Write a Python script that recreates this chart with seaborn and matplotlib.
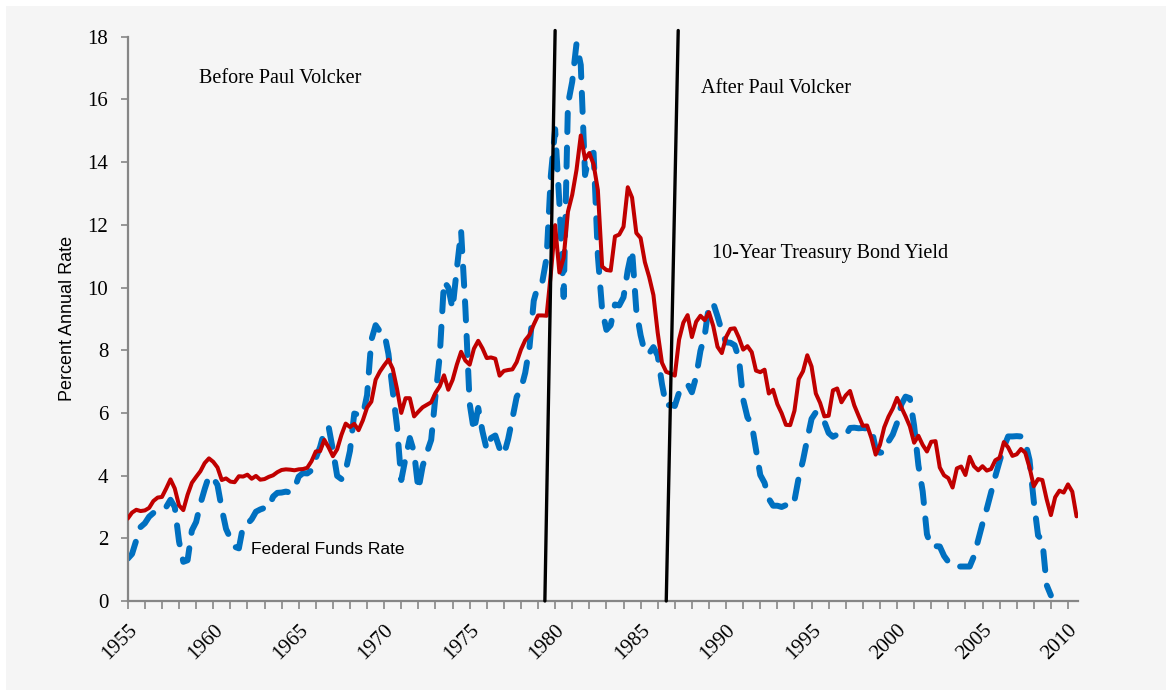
import numpy as np
import pandas as pd
import seaborn as sns
from matplotlib import pyplot as plt
from matplotlib.patches import Rectangle
from matplotlib.ticker import MultipleLocator, FixedLocator
import matplotlib.transforms as mtransforms

# quarterly values, first point is 1955 Q1
start_year = 1955

# 10-year treasury bond yield, 1955 Q1 .. 2010 Q3
treasury_10y = [
    2.63, 2.82, 2.91, 2.87,  # 1955
    2.89, 2.97, 3.19, 3.30,
    3.32, 3.59, 3.88, 3.59,
    3.05, 2.90, 3.39, 3.77,
    3.96, 4.14, 4.40, 4.55,
    4.44, 4.26, 3.86, 3.91,  # 1960
    3.81, 3.79, 3.98, 3.97,
    4.03, 3.90, 3.99, 3.87,
    3.89, 3.96, 4.01, 4.11,
    4.18, 4.20, 4.19, 4.17,
    4.20, 4.21, 4.25, 4.46,  # 1965
    4.77, 4.78, 5.14, 4.90,
    4.62, 4.84, 5.30, 5.66,
    5.55, 5.65, 5.45, 5.76,
    6.17, 6.36, 7.06, 7.32,
    7.52, 7.70, 7.41, 6.77,  # 1970
    6.00, 6.47, 6.47, 5.89,
    6.04, 6.18, 6.26, 6.34,
    6.64, 6.85, 7.20, 6.74,
    7.05, 7.54, 7.95, 7.67,
    7.54, 8.05, 8.30, 8.06,  # 1975
    7.75, 7.77, 7.73, 7.19,
    7.34, 7.37, 7.39, 7.62,
    8.02, 8.32, 8.49, 8.82,
    9.11, 9.11, 9.10, 10.45,
    11.99, 10.48, 10.95, 12.42,  # 1980
    12.96, 13.75, 14.85, 14.09,
    14.29, 13.93, 13.11, 10.67,
    10.56, 10.54, 11.63, 11.69,
    11.94, 13.20, 12.87, 11.74,
    11.58, 10.81, 10.34, 9.76,  # 1985
    8.56, 7.60, 7.31, 7.26,
    7.19, 8.34, 8.88, 9.12,
    8.42, 8.91, 9.10, 8.96,
    9.21, 8.77, 8.11, 7.91,
    8.42, 8.68, 8.70, 8.40,  # 1990
    8.02, 8.13, 7.94, 7.35,
    7.30, 7.38, 6.62, 6.74,
    6.28, 5.99, 5.62, 5.61,
    6.07, 7.08, 7.33, 7.84,
    7.48, 6.62, 6.32, 5.89,  # 1995
    5.91, 6.72, 6.78, 6.34,
    6.56, 6.70, 6.24, 5.91,
    5.59, 5.60, 5.20, 4.67,
    4.98, 5.54, 5.88, 6.14,
    6.48, 6.18, 5.89, 5.57,  # 2000
    5.05, 5.27, 4.98, 4.77,
    5.08, 5.10, 4.26, 4.01,
    3.92, 3.62, 4.23, 4.29,
    4.02, 4.60, 4.30, 4.17,
    4.30, 4.16, 4.21, 4.49,  # 2005
    4.57, 5.07, 4.90, 4.63,
    4.68, 4.85, 4.73, 4.26,
    3.66, 3.89, 3.86, 3.25,
    2.74, 3.31, 3.52, 3.46,
    3.72, 3.49, 2.70,        # 2010
]

# federal funds rate, 1955 Q1 .. 2009 Q1
fed_funds = [
    1.35, 1.50, 1.94, 2.36,  # 1955
    2.48, 2.69, 2.81, 2.93,
    2.93, 3.00, 3.23, 3.00,
    1.90, 1.25, 1.30, 2.25,
    2.52, 3.10, 3.57, 3.99,
    3.93, 3.70, 2.94, 2.30,  # 1960
    2.00, 1.73, 1.68, 2.40,
    2.46, 2.61, 2.85, 2.92,
    2.97, 2.96, 3.33, 3.45,
    3.46, 3.49, 3.46, 3.58,
    3.97, 4.08, 4.07, 4.17,  # 1965
    4.56, 4.91, 5.41, 5.56,
    4.82, 3.99, 3.89, 4.17,
    4.79, 5.98, 5.94, 5.92,
    6.57, 8.33, 8.80, 8.60,
    8.57, 7.88, 6.70, 5.57,  # 1970
    3.86, 4.56, 5.20, 4.75,
    3.55, 4.30, 4.74, 5.14,
    6.54, 7.82, 10.20, 10.00,
    9.32, 10.60, 11.80, 9.35,
    6.30, 5.42, 6.16, 5.41,  # 1975
    4.83, 5.20, 5.28, 4.87,
    4.66, 5.16, 5.82, 6.51,
    6.76, 7.28, 8.10, 9.58,
    10.07, 10.18, 10.95, 13.58,
    15.05, 12.69, 9.70, 15.85,  # 1980
    16.57, 17.78, 17.10, 13.59,
    14.23, 14.30, 11.01, 9.29,
    8.65, 8.80, 9.46, 9.43,
    9.69, 10.56, 11.20, 9.27,
    8.48, 7.92, 7.90, 8.10,  # 1985
    7.83, 6.92, 6.21, 6.27,
    6.22, 6.65, 6.84, 6.92,
    6.66, 7.16, 7.98, 8.47,
    9.44, 9.50, 9.08, 8.61,
    8.25, 8.24, 8.16, 7.74,  # 1990
    6.43, 5.86, 5.64, 4.82,
    4.02, 3.77, 3.26, 3.04,
    3.04, 3.00, 3.06, 2.99,
    3.21, 3.94, 4.49, 5.17,
    5.81, 6.02, 5.80, 5.72,  # 1995
    5.36, 5.24, 5.31, 5.28,
    5.28, 5.52, 5.53, 5.51,
    5.52, 5.50, 5.53, 4.86,
    4.73, 4.75, 5.09, 5.31,
    5.68, 6.27, 6.52, 6.47,  # 2000
    5.59, 4.33, 3.50, 2.13,
    1.73, 1.75, 1.74, 1.44,
    1.25, 1.25, 1.10, 1.10,
    1.10, 1.10, 1.43, 1.95,
    2.47, 2.94, 3.46, 3.98,  # 2005
    4.46, 4.91, 5.25, 5.25,
    5.26, 5.25, 5.07, 4.50,
    3.18, 2.09, 1.94, 0.51,
    0.18,                    # 2009
]

# hand drawn era markers (bottom year, top year)
volcker_in = [1979.4, 1980.0]
volcker_out = [1986.5, 1987.2]

bg = '#f5f5f5'
red = '#c00000'
blue = '#0070c0'
spine_grey = '#868686'

tsy_df = pd.DataFrame({'Year': start_year + np.arange(len(treasury_10y)) / 4,
                       'Rate': treasury_10y})
ff_df = pd.DataFrame({'Year': start_year + np.arange(len(fed_funds)) / 4,
                      'Rate': fed_funds})

sns.set_style('white')
plt.rcParams['text.color'] = 'black'
plt.rcParams['axes.labelcolor'] = 'black'
plt.rcParams['xtick.labelcolor'] = 'black'
plt.rcParams['ytick.labelcolor'] = 'black'

fig = plt.figure(figsize=(11.72, 6.94), dpi=100, facecolor='white')
fig.patches.append(Rectangle((0.005, 0.006), 0.99, 0.985, transform=fig.transFigure,
                             facecolor=bg, edgecolor='none', zorder=-10))
ax = fig.add_axes([0.109, 0.134, 0.811, 0.813])
ax.set_facecolor(bg)

sns.lineplot(data=ff_df, x='Year', y='Rate', ax=ax, color=blue, lw=4.3,
             linestyle=(0, (3.2, 2.6)), dash_capstyle='round', errorbar=None, zorder=2)
sns.lineplot(data=tsy_df, x='Year', y='Rate', ax=ax, color=red, lw=2.9,
             errorbar=None, zorder=3)

# Volcker era lines
ax.plot(volcker_in, [0, 18.2], color='black', lw=2.4, clip_on=False, zorder=4)
ax.plot(volcker_out, [0, 18.2], color='black', lw=2.4, clip_on=False, zorder=4)

ax.set_xlim(1955, 2010.6)
ax.set_ylim(0, 18)
ax.set_xlabel('')
ax.set_ylabel('Percent Annual Rate', fontsize=13, family='Liberation Sans', labelpad=8,
              color='black')

ax.yaxis.set_major_locator(MultipleLocator(2))
ax.xaxis.set_major_locator(FixedLocator(range(1955, 2011, 5)))
ax.xaxis.set_minor_locator(MultipleLocator(1))

for s in ['top', 'right']:
    ax.spines[s].set_visible(False)
for s in ['left', 'bottom']:
    ax.spines[s].set_color(spine_grey)
    ax.spines[s].set_linewidth(1.6)

ax.tick_params(axis='x', which='both', direction='out', length=6, width=1.2,
               color=spine_grey, bottom=True, labelcolor='black')
ax.tick_params(axis='y', direction='out', length=5, width=1.2, color=spine_grey, left=True,
               pad=9, labelcolor='black')
ax.tick_params(axis='x', pad=8)

for lab in ax.get_yticklabels():
    lab.set_family('Liberation Serif')
    lab.set_fontsize(15)
offset = mtransforms.ScaledTranslation(-8 / 100, 0, fig.dpi_scale_trans)
for lab in ax.get_xticklabels():
    lab.set_family('Liberation Serif')
    lab.set_fontsize(15)
    lab.set_rotation(45)
    lab.set_ha('center')
    lab.set_transform(lab.get_transform() + offset)

serif = dict(family='Liberation Serif', fontsize=14.5, va='center', color='black')
ax.text(1959.15, 16.66, 'Before Paul Volcker', **serif)
ax.text(1988.55, 16.34, 'After Paul Volcker', **serif)
ax.text(1989.15, 11.1, '10-Year Treasury Bond Yield', **serif)
ax.text(1962.2, 1.63, 'Federal Funds Rate', family='Liberation Sans', fontsize=12.5,
        va='center', color='black')

plt.savefig('out.png', dpi=100, facecolor=fig.get_facecolor())
